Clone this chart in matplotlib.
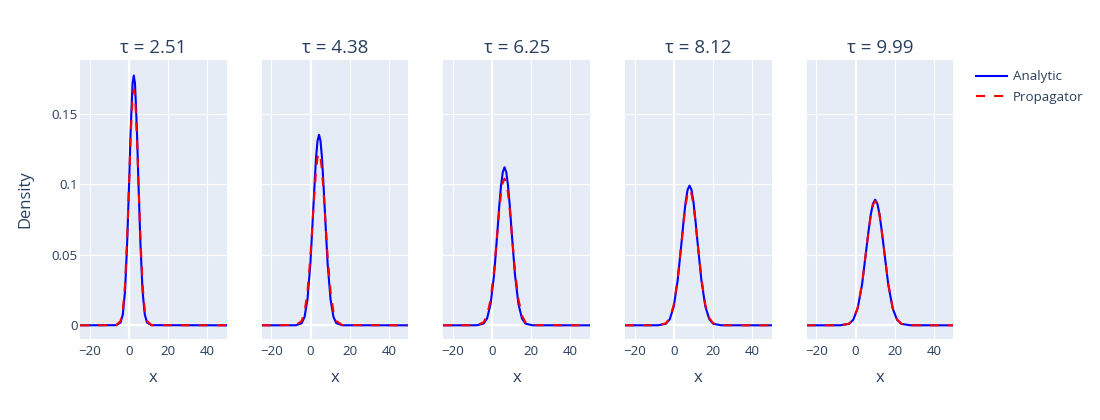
import matplotlib
matplotlib.use("Agg")
import matplotlib.pyplot as plt

plt.rcParams['font.family'] = ['Open Sans', 'DejaVu Sans']
plt.rcParams['lines.scale_dashes'] = False

# density curves, one panel per tau
taus = ['2.51', '4.38', '6.25', '8.12', '9.99']

x1 = [-25, -6.5, -4.25, -3.1, -2.0, -0.9, 0.25, 0.8, 1.4, 1.9, 2.5, 3.1, 3.6, 4.2, 4.75, 5.9, 7.0, 8.1, 9.25, 11.5, 50]
a1 = [0, 0.0001, 0.002, 0.0078, 0.024, 0.0575, 0.107, 0.1336, 0.156, 0.1716, 0.177, 0.1716, 0.156, 0.1336, 0.107, 0.0575, 0.024, 0.0078, 0.002, 0.0001, 0]
p1 = [0, 0.0001, 0.0031, 0.0105, 0.0284, 0.0616, 0.1072, 0.1303, 0.1495, 0.1625, 0.167, 0.1625, 0.1495, 0.1303, 0.1072, 0.0616, 0.0284, 0.0105, 0.0031, 0.0001, 0]

x2 = [-25, -7.5, -4.55, -3.1, -1.6, -0.1, 1.35, 2.1, 2.8, 3.55, 4.3, 5.05, 5.8, 6.5, 7.25, 8.7, 10.2, 11.7, 13.15, 16.1, 50]
a2 = [0, 0.00004, 0.0015, 0.0059, 0.0183, 0.0438, 0.0819, 0.1019, 0.1191, 0.1308, 0.135, 0.1308, 0.1191, 0.1019, 0.0819, 0.0438, 0.0183, 0.0059, 0.0015, 0.00004, 0]
p2 = [0, 0.0002, 0.0031, 0.0094, 0.0237, 0.0486, 0.0810, 0.0969, 0.1102, 0.1190, 0.122, 0.1190, 0.1102, 0.0969, 0.0810, 0.0486, 0.0237, 0.0094, 0.0031, 0.0002, 0]

x3 = [-25, -7.9, -4.4, -2.6, -0.8, 1.0, 2.75, 3.6, 4.5, 5.4, 6.3, 7.2, 8.1, 9.0, 9.85, 11.6, 13.4, 15.2, 17.0, 20.5, 50]
a3 = [0, 0.00003, 0.0012, 0.0049, 0.0152, 0.0364, 0.0679, 0.0845, 0.0988, 0.1085, 0.112, 0.1085, 0.0988, 0.0845, 0.0679, 0.0364, 0.0152, 0.0049, 0.0012, 0.00003, 0]
p3 = [0, 0.0001, 0.0021, 0.0070, 0.0185, 0.0394, 0.0676, 0.0815, 0.0934, 0.1012, 0.104, 0.1012, 0.0934, 0.0815, 0.0676, 0.0394, 0.0185, 0.0070, 0.0021, 0.0001, 0]

x4 = [-25, -8.1, -4.1, -2.1, -0.05, 1.95, 4.0, 5.0, 6.0, 7.0, 8.0, 9.0, 10.0, 11.0, 12.0, 14.05, 16.05, 18.1, 20.1, 24.1, 50]
a4 = [0, 0.00003, 0.0011, 0.0043, 0.0134, 0.0321, 0.0600, 0.0747, 0.0874, 0.0960, 0.099, 0.0960, 0.0874, 0.0747, 0.0600, 0.0321, 0.0134, 0.0043, 0.0011, 0.00003, 0]
p4 = [0, 0.00005, 0.0014, 0.0051, 0.0147, 0.0334, 0.0600, 0.0737, 0.0853, 0.0932, 0.096, 0.0932, 0.0853, 0.0737, 0.0600, 0.0334, 0.0147, 0.0051, 0.0014, 0.00005, 0]

x5 = [-25, -7.9, -3.4, -1.2, 1.05, 3.3, 5.5, 6.65, 7.75, 8.9, 10.0, 11.1, 12.25, 13.35, 14.5, 16.7, 18.95, 21.2, 23.4, 27.9, 50]
a5 = [0, 0.00003, 0.0010, 0.0039, 0.0120, 0.0289, 0.0540, 0.0672, 0.0785, 0.0863, 0.089, 0.0863, 0.0785, 0.0672, 0.0540, 0.0289, 0.0120, 0.0039, 0.0010, 0.00003, 0]
p5 = [0, 0.00004, 0.0011, 0.0041, 0.0124, 0.0293, 0.0539, 0.0668, 0.0779, 0.0854, 0.088, 0.0854, 0.0779, 0.0668, 0.0539, 0.0293, 0.0124, 0.0041, 0.0011, 0.00004, 0]

xs = [x1, x2, x3, x4, x5]
analytic = [a1, a2, a3, a4, a5]
propagator = [p1, p2, p3, p4, p5]

xticks = [-20, 0, 20, 40]
yticks = [0, 0.05, 0.1, 0.15]
ytick_labels = ['0', '0.05', '0.1', '0.15']

W, H = 1100, 420
txt = '#2a3f5f'
bg = '#E5ECF6'

fig = plt.figure(figsize=(11, 4.2), dpi=100)

lefts = [80, 261.7, 443.3, 625, 806.7]
pw, top, bot = 146.7, 60, 339
axes = []
for i in range(5):
    ax = fig.add_axes([lefts[i] / W, (H - bot) / H, pw / W, (bot - top) / H])
    ax.set_facecolor(bg)
    for s in ax.spines.values():
        s.set_visible(False)
    ax.set_xlim(-25, 50)
    ax.set_ylim(-0.0097, 0.188)
    ax.set_xticks(xticks)
    ax.set_xticklabels(['\u221220', '0', '20', '40'])
    ax.set_yticks(yticks)
    if i == 0:
        ax.set_yticklabels(ytick_labels)
    else:
        ax.set_yticklabels([])
    ax.tick_params(length=0, labelsize=9.6, labelcolor=txt)
    ax.tick_params(axis='x', pad=4.5)
    ax.tick_params(axis='y', pad=1.5)
    ax.grid(True, color='white', linewidth=0.8)
    ax.set_axisbelow(True)
    ax.axhline(0, color='white', linewidth=1.6, zorder=1)
    ax.axvline(0, color='white', linewidth=1.6, zorder=1)

    ax.plot(xs[i], analytic[i], color='blue', linewidth=1.5, label='Analytic', zorder=3)
    ax.plot(xs[i], propagator[i], color='red', linewidth=1.5, dashes=(6.5, 6.5),
            label='Propagator', zorder=4)

    ax.text(0.5, 1 + 12 / (bot - top), '\u03c4 = ' + taus[i], transform=ax.transAxes,
            ha='center', va='center', fontsize=13.5, color=txt)
    ax.set_xlabel('x', fontsize=12, color=txt)
    ax.xaxis.set_label_coords(0.5, -39 / (bot - top))
    ax.xaxis.label.set_va('center')
    axes.append(ax)

axes[0].set_ylabel('Density', fontsize=12, color=txt)
axes[0].yaxis.set_label_coords(-55 / pw, 0.5)
axes[0].yaxis.label.set_va('center')

h, l = axes[0].get_legend_handles_labels()
fig.legend(h, l, loc='upper left', bbox_to_anchor=(975 / W, 1 - 69 / H),
           frameon=False, fontsize=9.6, labelcolor=txt, handlelength=2.3,
           handletextpad=0.45, labelspacing=0.55, borderaxespad=0, borderpad=0.1)

fig.savefig('out.png', dpi=100)
